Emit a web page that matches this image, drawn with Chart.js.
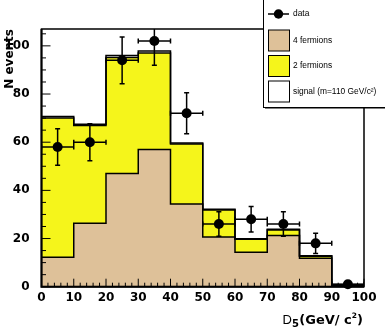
<!DOCTYPE html>
<html>
<head>
<meta charset="utf-8">
<script src="https://cdn.jsdelivr.net/npm/chart.js@4.4.0/dist/chart.umd.min.js"></script>
<style>
  html, body { margin: 0; padding: 0; background: #fff; }
  #wrap { width: 385px; height: 331px; }
</style>
</head>
<body>
<div id="wrap"><canvas id="chartD5" width="385" height="331"></canvas></div>
<script>
// ============================================
// DATI
// ============================================
const binEdges   = [0, 10, 20, 30, 40, 50, 60, 70, 80, 90, 100];
const binCenters = [5, 15, 25, 35, 45, 55, 65, 75, 85, 95];

const fermions4 = [12.2, 26.3, 47.0, 57.0, 34.3, 20.6, 14.3, 21.3, 11.8, 0.4]; // 4 fermioni
const fermions2 = [57.8, 40.6, 48.2, 40.0, 24.9, 11.2, 5.4, 2.2, 0.8, 0.1];    // 2 fermioni
const signal    = [0.7, 0.5, 0.8, 0.9, 0.5, 0.4, 0.2, 0.4, 0.3, 0.4];          // segnale m=110

const dataCounts = [58, 60, 94, 102, 72, 26, 28, 26, 18, 1];
const dataErrors = [7.6, 7.7, 9.7, 10.1, 8.5, 5.1, 5.3, 5.1, 4.2, 1.0];

const xTickValues = [0, 10, 20, 30, 40, 50, 60, 70, 80, 90, 100];
const yTickValues = [0, 20, 40, 60, 80, 100];

// colori
const TAN    = '#dec199';
const YELLOW = '#f5f51b';

const tickFont = { family: '"DejaVu Sans"', size: 12, weight: 'bold' };

// somma cumulativa per lo stack
function stack(...series) {
    return series[0].map((_, i) => series.reduce((s, a) => s + a[i], 0));
}
// punti per istogramma a gradini
function stepPoints(values) {
    const pts = values.map((v, i) => ({ x: binEdges[i], y: v }));
    pts.push({ x: binEdges[binEdges.length - 1], y: values[values.length - 1] });
    return pts;
}

const top4f  = stack(fermions4);
const top2f  = stack(fermions4, fermions2);
const topSig = stack(fermions4, fermions2, signal);

// ============================================
// PLUGIN: cornice + tacche interne
// ============================================
const frameTicks = {
    id: 'frameTicks',
    afterDatasetsDraw(chart) {
        const { ctx, chartArea: a, scales: { x, y } } = chart;
        ctx.save();
        ctx.strokeStyle = '#000';
        ctx.lineWidth = 1;
        ctx.beginPath();
        for (let v = 0; v <= 100; v += 2) {
            const px = x.getPixelForValue(v);
            const len = v % 10 === 0 ? 8 : 4;
            ctx.moveTo(px, a.bottom);
            ctx.lineTo(px, a.bottom - len);
        }
        for (let v = 0; v <= 105; v += 5) {
            const py = y.getPixelForValue(v);
            const len = v % 20 === 0 ? 9 : 4.5;
            ctx.moveTo(a.left, py);
            ctx.lineTo(a.left + len, py);
        }
        ctx.stroke();
        // cornice
        ctx.lineWidth = 1.5;
        ctx.strokeRect(a.left, a.top, a.right - a.left, a.bottom - a.top);
        ctx.lineWidth = 2;
        ctx.beginPath();
        ctx.moveTo(a.left, a.top);
        ctx.lineTo(a.left, a.bottom);
        ctx.lineTo(a.right, a.bottom);
        ctx.stroke();
        ctx.restore();
    }
};

// ============================================
// PLUGIN: barre d'errore
// ============================================
const errorBars = {
    id: 'errorBars',
    afterDatasetsDraw(chart) {
        const { ctx, chartArea: a, scales: { x, y } } = chart;
        ctx.save();
        ctx.beginPath();
        ctx.rect(a.left, a.top, a.right - a.left, a.bottom - a.top);
        ctx.clip();
        ctx.strokeStyle = '#000';
        ctx.lineWidth = 1.5;
        const cap = 2.5;
        ctx.beginPath();
        dataCounts.forEach((n, i) => {
            const px = x.getPixelForValue(binCenters[i]);
            const py = y.getPixelForValue(n);
            const xl = x.getPixelForValue(binEdges[i]);
            const xr = x.getPixelForValue(binEdges[i + 1]);
            const yt = y.getPixelForValue(n + dataErrors[i]);
            const yb = y.getPixelForValue(n - dataErrors[i]);
            ctx.moveTo(xl, py); ctx.lineTo(xr, py);
            ctx.moveTo(xl, py - cap); ctx.lineTo(xl, py + cap);
            ctx.moveTo(xr, py - cap); ctx.lineTo(xr, py + cap);
            ctx.moveTo(px, yt); ctx.lineTo(px, yb);
            ctx.moveTo(px - cap, yt); ctx.lineTo(px + cap, yt);
            ctx.moveTo(px - cap, yb); ctx.lineTo(px + cap, yb);
        });
        ctx.stroke();
        ctx.restore();
    }
};

// ============================================
// PLUGIN: titoli assi + legenda
// ============================================
const titlesLegend = {
    id: 'titlesLegend',
    afterDraw(chart) {
        const { ctx, chartArea: a } = chart;
        ctx.save();
        ctx.fillStyle = '#000';

        // titolo asse Y
        ctx.save();
        ctx.translate(12.5, a.top);
        ctx.rotate(-Math.PI / 2);
        ctx.font = 'bold 12px "DejaVu Sans"';
        ctx.textAlign = 'right';
        ctx.textBaseline = 'alphabetic';
        ctx.fillText('N events', 0, 0);
        ctx.restore();

        // titolo asse X: D_5(GeV/ c^2)
        ctx.textAlign = 'left';
        ctx.textBaseline = 'alphabetic';
        let tx = 282.5;
        const parts = [
            { t: 'D', f: '13px "Liberation Sans"', dy: 0 },
            { t: '5', f: 'bold 10px "DejaVu Sans"', dy: 3 },
            { t: '(GeV/ c', f: 'bold 13px "DejaVu Sans"', dy: 0 },
            { t: '2', f: 'bold 7.5px "DejaVu Sans"', dy: -6 },
            { t: ')', f: 'bold 13px "DejaVu Sans"', dy: 0 }
        ];
        parts.forEach(p => {
            ctx.font = p.f;
            ctx.fillText(p.t, tx, 324.3 + p.dy);
            tx += ctx.measureText(p.t).width + (p.t === '5' ? 0.5 : 0);
        });

        // legenda
        const lx = 263, ly = -2, lw = 126, lh = 109;
        ctx.fillRect(lx + 2, ly + lh - 1, lw, 2.5);
        ctx.fillStyle = '#fff';
        ctx.fillRect(lx, ly, lw, lh);
        ctx.strokeStyle = '#000';
        ctx.lineWidth = 1;
        ctx.strokeRect(lx + 0.5, ly + 0.5, lw, lh);

        const ds = chart.data.datasets;
        const rows = [14, 40.5, 66, 91.5];
        ctx.font = '8.4px "Liberation Sans"';
        ctx.textBaseline = 'middle';
        ds.forEach((d, i) => {
            const cy = rows[i];
            if (i === 0) {
                ctx.strokeStyle = '#000';
                ctx.lineWidth = 1.5;
                ctx.beginPath();
                ctx.moveTo(268, cy); ctx.lineTo(289, cy);
                ctx.stroke();
                ctx.fillStyle = '#000';
                ctx.beginPath();
                ctx.arc(278.5, cy, 4.7, 0, Math.PI * 2);
                ctx.fill();
            } else {
                ctx.fillStyle = d.backgroundColor;
                ctx.fillRect(268, cy - 10.5, 21, 21);
                ctx.strokeStyle = '#000';
                ctx.lineWidth = 1;
                ctx.strokeRect(268.5, cy - 10.5, 21, 21);
            }
            ctx.fillStyle = '#000';
            ctx.fillText(d.label, 293, cy);
        });
        ctx.restore();
    }
};

// ============================================
// GRAFICO
// ============================================
new Chart(document.getElementById('chartD5'), {
    type: 'line',
    data: {
        datasets: [
            {
                label: 'data',
                data: dataCounts.map((n, i) => ({ x: binCenters[i], y: n })),
                showLine: false,
                pointRadius: 5,
                pointBackgroundColor: '#000',
                pointBorderColor: '#000',
                pointBorderWidth: 0,
                clip: false,
                order: 0
            },
            {
                label: '4 fermions',
                data: stepPoints(top4f),
                stepped: 'before',
                borderColor: '#000',
                borderWidth: 1.5,
                backgroundColor: TAN,
                fill: 'origin',
                pointRadius: 0,
                order: 3
            },
            {
                label: '2 fermions',
                data: stepPoints(top2f),
                stepped: 'before',
                borderColor: '#000',
                borderWidth: 1.5,
                backgroundColor: YELLOW,
                fill: '-1',
                pointRadius: 0,
                order: 2
            },
            {
                label: 'signal (m=110 GeV/c²)',
                data: stepPoints(topSig),
                stepped: 'before',
                borderColor: '#000',
                borderWidth: 1.5,
                backgroundColor: '#fff',
                fill: '-1',
                pointRadius: 0,
                order: 1
            }
        ]
    },
    options: {
        responsive: false,
        animation: false,
        layout: { padding: { top: 29, right: 21, left: 0, bottom: 0 } },
        plugins: {
            legend: { display: false },
            tooltip: { enabled: false },
            filler: { drawTime: 'beforeDatasetsDraw' }
        },
        scales: {
            x: {
                type: 'linear',
                min: 0,
                max: 100,
                grid: { display: false },
                border: { display: false },
                ticks: { font: tickFont, color: '#000', padding: -4, autoSkip: false, maxRotation: 0 },
                afterBuildTicks: s => { s.ticks = xTickValues.map(v => ({ value: v })); },
                afterFit: s => { s.height = 44.3; }
            },
            y: {
                type: 'linear',
                min: 0,
                max: 107,
                grid: { display: false },
                border: { display: false },
                ticks: { font: tickFont, color: '#000', padding: 4 },
                afterBuildTicks: s => { s.ticks = yTickValues.map(v => ({ value: v })); },
                afterFit: s => { s.width = 41.5; }
            }
        }
    },
    plugins: [frameTicks, errorBars, titlesLegend]
});
</script>
</body>
</html>
